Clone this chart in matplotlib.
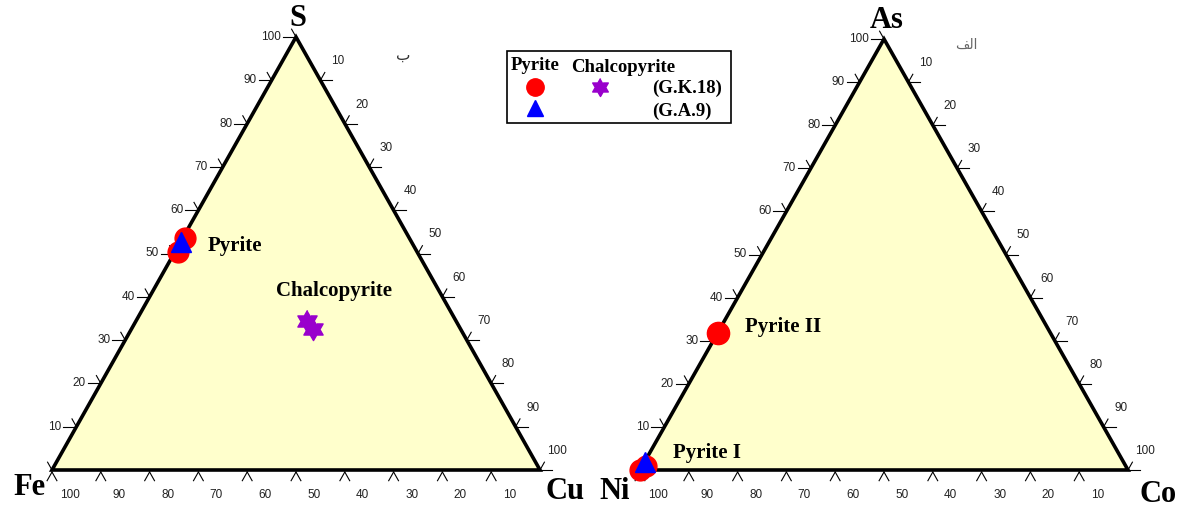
import matplotlib.pyplot as plt
import numpy as np
from matplotlib.transforms import offset_copy
from matplotlib.patches import Polygon, Rectangle

# ---- data (wt %) ----
# left diagram: Fe - Cu - S
py_gk18_fe = [46.0, 49.0]
py_gk18_cu = [0.4, 0.6]
py_gk18_s = [53.6, 50.4]
py_ga9_fe = [47.3]
py_ga9_cu = [0.0]
py_ga9_s = [52.7]
cp_gk18_fe = [30.5, 30.3]
cp_gk18_cu = [35.1, 37.1]
cp_gk18_s = [34.4, 32.6]

# right diagram: Ni - Co - As
py2_ni = [68.2]
py2_co = [0.0]
py2_as = [31.8]
py1_gk18_ni = [100.0, 98.2]
py1_gk18_co = [0.0, 0.8]
py1_gk18_as = [0.0, 1.0]
py1_ga9_ni = [98.1]
py1_ga9_co = [0.0]
py1_ga9_as = [1.9]

tick_vals = [10, 20, 30, 40, 50, 60, 70, 80, 90, 100]

SERIF = 'Liberation Serif'
SANS = 'Liberation Sans'
FILL = '#FFFFCC'

# six-pointed star (hexagram) marker
ang = np.deg2rad(90 + 30 * np.arange(12))
rad = np.where(np.arange(12) % 2 == 0, 1.0, 1 / np.sqrt(3))
HEXA = list(zip(rad * np.cos(ang), rad * np.sin(ang)))


def tern(right, top):
    right = np.asarray(right) / 100.0
    top = np.asarray(top) / 100.0
    return right + top / 2.0, top


fig = plt.figure(figsize=(11.88, 5.10), dpi=100)


def draw_triangle(rect, w_px, h_px):
    ax = fig.add_axes(rect)
    ax.set_xlim(0, 1)
    ax.set_ylim(0, 1)
    ax.axis('off')
    sx, sy = 1.0 / w_px, 1.0 / h_px
    tri = Polygon([[0, 0], [1, 0], [0.5, 1]], closed=True, facecolor=FILL,
                  edgecolor='black', lw=2.6, joinstyle='miter', zorder=2, clip_on=False)
    ax.add_patch(tri)
    kw = dict(color='black', lw=0.8, clip_on=False, zorder=1)
    tk = dict(fontsize=8.5, family=SANS, color='#222222', va='center')
    for v in tick_vals:
        # left edge (top component)
        x, y = tern(0, v)
        ax.plot([x, x - 13 * sx], [y, y], **kw)
        ax.plot([x, x - 0.49 * 9 * sx], [y, y + 0.87 * 9 * sy], **kw)
        ax.text(x, y, str(v), ha='right',
                transform=offset_copy(ax.transData, fig, x=-15, y=1, units='dots'), **tk)
        # right edge (right component)
        x, y = tern(v, 100 - v)
        ax.plot([x, x + 12 * sx], [y, y], **kw)
        ax.plot([x, x + 0.49 * 9 * sx], [y, y + 0.87 * 9 * sy], **kw)
        ax.text(x, y, str(v), ha='center',
                transform=offset_copy(ax.transData, fig, x=17, y=20, units='dots'), **tk)
        # bottom edge (left component)
        x, y = tern(100 - v, 0)
        ax.plot([x, x - 0.49 * 10 * sx], [y - 2 * sy, y - 2 * sy - 0.87 * 10 * sy], **kw)
        ax.plot([x, x + 0.49 * 10 * sx], [y - 2 * sy, y - 2 * sy - 0.87 * 10 * sy], **kw)
        ax.text(x, y, str(v), ha='center',
                transform=offset_copy(ax.transData, fig, x=18, y=-24, units='dots'), **tk)
    # stub at the lower-left vertex
    ax.plot([0, -0.49 * 9 * sx], [0, 0.87 * 9 * sy], **kw)
    return ax


ax1 = draw_triangle([52 / 1188, 39 / 510, 488 / 1188, 433 / 510], 488, 433)
ax2 = draw_triangle([640 / 1188, 39 / 510, 488 / 1188, 431 / 510], 488, 431)

vfont = dict(family=SERIF, fontweight='bold', fontsize=22, color='black')
ax1.text(0.5, 1.0, 'S', ha='center', va='bottom',
         transform=offset_copy(ax1.transData, fig, x=2, y=5, units='dots'), **vfont)
ax1.text(0, 0, 'Fe', ha='center', va='center',
         transform=offset_copy(ax1.transData, fig, x=-22, y=-17, units='dots'), **vfont)
ax1.text(1, 0, 'Cu', ha='center', va='center',
         transform=offset_copy(ax1.transData, fig, x=25, y=-21, units='dots'), **vfont)
ax2.text(0.5, 1.0, 'As', ha='center', va='bottom',
         transform=offset_copy(ax2.transData, fig, x=3, y=5, units='dots'), **vfont)
ax2.text(0, 0, 'Ni', ha='center', va='center',
         transform=offset_copy(ax2.transData, fig, x=-25, y=-21, units='dots'), **vfont)
ax2.text(1, 0, 'Co', ha='center', va='center',
         transform=offset_copy(ax2.transData, fig, x=30, y=-24, units='dots'), **vfont)

# ---- points ----
x, y = tern(py_gk18_cu, py_gk18_s)
ax1.plot(x, y, 'o', color='#FF0000', ms=15, zorder=5, clip_on=False)
x, y = tern(py_ga9_cu, py_ga9_s)
ax1.plot(x, y, '^', color='#0000FF', ms=14, zorder=6, clip_on=False)
x, y = tern(cp_gk18_cu, cp_gk18_s)
ax1.plot(x, y, marker=HEXA, ls='none', color='#9900CC', ms=16, zorder=5, clip_on=False)

x, y = tern(py2_co, py2_as)
ax2.plot(x, y, 'o', color='#FF0000', ms=16, zorder=5, clip_on=False)
x, y = tern(py1_gk18_co, py1_gk18_as)
ax2.plot(x, y, 'o', color='#FF0000', ms=15, zorder=5, clip_on=False)
x, y = tern(py1_ga9_co, py1_ga9_as)
ax2.plot(x, y, '^', color='#0000FF', ms=14, zorder=6, clip_on=False)

lfont = dict(family=SERIF, fontweight='bold', fontsize=15, color='black', va='center')
ax1.text(0.319, 0.519, 'Pyrite', **lfont)
ax1.text(0.459, 0.415, 'Chalcopyrite', **lfont)
ax2.text(0.215, 0.335, 'Pyrite II', **lfont)
ax2.text(0.068, 0.042, 'Pyrite I', **lfont)

# panel letters
fig.text(403 / 1188, 1 - 55 / 510, '\u0628', family='DejaVu Sans', fontsize=11,
         color='#333333', ha='center', va='center')
fig.text(966 / 1188, 1 - 45 / 510, '\uFED2\uFEDF\uFE8D', family='DejaVu Sans', fontsize=10,
         color='#666666', ha='center', va='center')

# ---- legend ----
lg = fig.add_axes([0, 0, 1, 1], facecolor='none')
lg.set_xlim(0, 1188)
lg.set_ylim(510, 0)
lg.axis('off')
lg.add_patch(Rectangle((507, 52), 224, 72, facecolor='white', edgecolor='black', lw=1.2))
gfont = dict(family=SERIF, fontweight='bold', fontsize=13.5, color='black', va='center')
lg.text(511, 66, 'Pyrite', ha='left', **gfont)
lg.text(571, 68, 'Chalcopyrite', ha='left', **gfont)
lg.text(652, 88, '(G.K.18)', ha='left', **gfont)
lg.text(652, 111, '(G.A.9)', ha='left', **gfont)
lg.plot([535], [88], 'o', color='#FF0000', ms=12.5)
lg.plot([600], [88], marker=HEXA, ls='none', color='#9900CC', ms=13)
lg.plot([535], [109], '^', color='#0000FF', ms=12)

fig.savefig('out.png', dpi=100)
